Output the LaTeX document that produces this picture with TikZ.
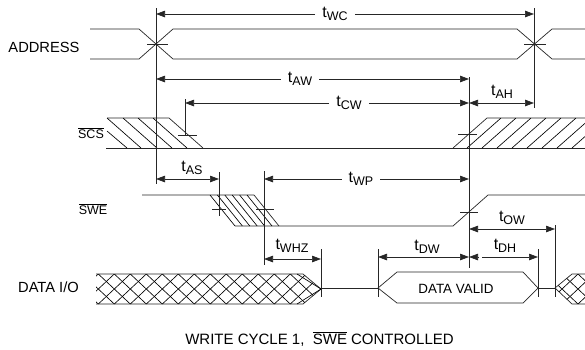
\documentclass[tikz,border=0pt]{standalone}
\usepackage{fontspec}
\setmainfont{Liberation Sans}
\usetikzlibrary{arrows.meta}
\newcommand{\tlab}[1]{{\fontsize{16}{16}\selectfont t}\raisebox{-2.5pt}{\fontsize{12.5}{12.5}\selectfont #1}}
\newcommand{\barlab}[1]{$\overline{\mbox{#1}}$}
\tikzset{
    wave/.style={line width=0.7pt, color=black!85},
    hatch/.style={line width=0.65pt, color=black},
    marker/.style={line width=0.7pt, color=black!85},
    dim/.style={line width=0.7pt, color=black!85, {Triangle[length=9pt,width=6.5pt]}-{Triangle[length=9pt,width=6.5pt]}},
    dimr/.style={line width=0.7pt, color=black!85, -{Triangle[length=9pt,width=6.5pt]}},
    tname/.style={inner sep=0pt, inner xsep=7pt, text height=11pt, text depth=4pt},
    sig/.style={inner sep=0pt, font=\fontsize{14.7}{14.7}\selectfont},
    sigsmall/.style={inner sep=0pt, font=\fontsize{12.5}{12.5}\selectfont}
}
\begin{document}
\begin{tikzpicture}[x=1pt, y=-1pt]
    \useasboundingbox (0, 0) rectangle (585, 349);
    \node[sig] (addr) at (44, 47) {ADDRESS};
    \node[sigsmall] (scs) at (91, 133) {\barlab{SCS}};
    \node[sigsmall] (swe) at (93, 209) {\barlab{SWE}};
    \node[sig] (dataio) at (48.5, 287) {DATA I/O};
    \node[sig, font=\fontsize{13.4}{13.4}\selectfont] (valid) at (456, 289) {DATA VALID};
    \node[sig, font=\fontsize{15}{15}\selectfont] (caption) at (319.5, 339) {WRITE CYCLE 1,\ \ \barlab{SWE} CONTROLLED};
    % address
    \draw[wave] (90, 29) -- (139, 29) -- (173, 59) -- (517, 59) -- (552, 29) -- (585, 29);
    \draw[wave] (90, 59) -- (139, 59) -- (173, 29) -- (517, 29) -- (552, 59) -- (585, 59);
    \draw[marker] (147, 44) -- (168, 44);
    \draw[marker] (524, 44) -- (546, 44);
    % scs
    \draw[wave] (107, 118) -- (169, 118) -- (203, 148);
    \draw[wave] (106, 148) -- (585, 148);
    \draw[wave] (453, 148) -- (487, 118) -- (585, 118);
    \draw[hatch] (107, 131) -- (127, 148);
    \foreach \x in {107, 123, 138, 153}
        \draw[hatch] (\x, 118) -- ({\x+34}, 148);
    \begin{scope}
        \clip (453, 118) rectangle (585, 148);
        \foreach \x in {467, 482, 497, 512, 527, 542, 557, 572}
            \draw[hatch] (\x, 148) -- ({\x+34}, 118);
    \end{scope}
    \draw[marker] (178, 135) -- (197, 135);
    \draw[marker] (458, 134) -- (477, 134);
    % swe
    \draw[wave] (142, 195) -- (254, 195) -- (279, 226);
    \draw[wave] (235, 226) -- (453, 226) -- (488, 195) -- (585, 195);
    \foreach \i in {0, ..., 5}
        \draw[hatch] ({210+7.4*\i}, 195) -- ({235+7.4*\i}, 226);
    \draw[marker] (212, 209) -- (226, 209);
    \draw[marker] (256, 209) -- (274, 209);
    \draw[marker] (460, 212) -- (478, 212);
    % data
    \draw[wave] (96, 274) -- (303, 274) -- (321, 289) -- (303, 304) -- (96, 304);
    \begin{scope}
        \clip (96, 274) -- (303, 274) -- (321, 289) -- (303, 304) -- (96, 304) -- cycle;
        \foreach \x in {50, 66, ..., 306} {
            \draw[hatch] ({\x+0.3}, 274) -- ({\x+32.3}, 304);
            \draw[hatch] ({\x+32.3}, 274) -- ({\x+0.3}, 304);
        }
    \end{scope}
    \draw[hatch] (297, 274) -- (321, 289) -- (297, 304);
    \draw[wave] (321, 288) -- (378, 288);
    \draw[wave] (378, 288) -- (397, 272) -- (523, 272) -- (538, 288) -- (523, 303) -- (397, 303) -- cycle;
    \draw[wave] (538, 288) -- (555, 288);
    \draw[wave] (585, 274) -- (572, 274) -- (555, 288) -- (572, 304) -- (585, 304);
    \begin{scope}
        \clip (555, 288) -- (572, 274) -- (585, 274) -- (585, 304) -- (572, 304) -- cycle;
        \foreach \x in {530, 546, 562, 578} {
            \draw[hatch] (\x, 274) -- ({\x+32}, 304);
            \draw[hatch] ({\x+32}, 274) -- (\x, 304);
        }
    \end{scope}
    % vertical markers
    \draw[marker] (156, 8) -- (156, 184);
    \draw[marker] (534, 8) -- (534, 108);
    \draw[marker] (469, 77) -- (469, 268);
    \draw[marker] (185, 99) -- (185, 135);
    \draw[marker] (219, 172) -- (219, 216);
    \draw[marker] (264, 171) -- (264, 265);
    \draw[marker] (321, 249) -- (321, 297);
    \draw[marker] (378, 249) -- (378, 297);
    \draw[marker] (538, 249) -- (538, 297);
    \draw[marker] (555, 225) -- (555, 297);
    % timing
    \node[tname] (tWC) at (335, 14) {\tlab{WC}};
    \draw[dimr] (tWC) -- (156, 14);
    \draw[dimr] (tWC) -- (534, 14);
    \node[tname] (tAW) at (300, 79) {\tlab{AW}};
    \draw[dimr] (tAW) -- (156, 79);
    \draw[dimr] (tAW) -- (469, 79);
    \node[tname] (tCW) at (349, 103) {\tlab{CW}};
    \draw[dimr] (tCW) -- (185, 103);
    \draw[dimr] (tCW) -- (469, 103);
    \draw[dim] (469, 103) -- (534, 103);
    \node[tname] (tAH) at (502, 92) {\tlab{AH}};
    \draw[dim] (156, 179) -- (219, 179);
    \node[tname] (tAS) at (192, 168) {\tlab{AS}};
    \node[tname] (tWP) at (361, 179) {\tlab{WP}};
    \draw[dimr] (tWP) -- (264, 179);
    \draw[dimr] (tWP) -- (469, 179);
    \draw[dim] (264, 259) -- (321, 259);
    \node[tname] (tWHZ) at (292, 246) {\tlab{WHZ}};
    \draw[dim] (469, 229) -- (555, 229);
    \node[tname] (tOW) at (512, 218) {\tlab{OW}};
    \draw[dim] (378, 257) -- (469, 257);
    \node[tname] (tDW) at (427, 247) {\tlab{DW}};
    \draw[dimr] (479, 257) -- (469, 257);
    \draw[dimr] (482, 257) -- (538, 257);
    \node[tname] (tDH) at (505, 246) {\tlab{DH}};
\end{tikzpicture}
\end{document}
